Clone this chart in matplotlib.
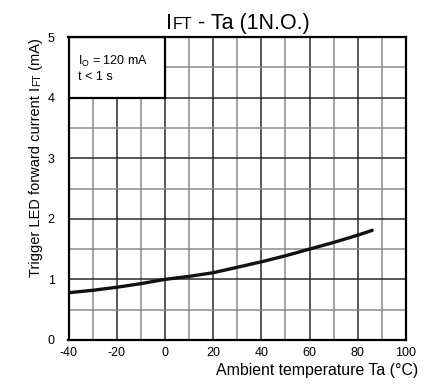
import matplotlib
matplotlib.use('Agg')
import matplotlib.pyplot as plt
from matplotlib.patches import Rectangle
import numpy as np

plt.rcParams['font.family'] = ['Liberation Sans', 'DejaVu Sans']
plt.rcParams['axes.unicode_minus'] = False

# curve
temp = [-40, -30, -20, -10, 0, 10, 20, 30, 40, 50, 60, 70, 80, 86]
ift = [0.78, 0.82, 0.87, 0.93, 1.00, 1.05, 1.11, 1.20, 1.29, 1.39, 1.50, 1.61, 1.73, 1.81]

x_ticks = [-40, -20, 0, 20, 40, 60, 80, 100]
y_ticks = [0, 1, 2, 3, 4, 5]
note_lines = [r'I$_\mathregular{O}$ = 120 mA', 't < 1 s']

W, H = 429, 389
fig = plt.figure(figsize=(W / 100, H / 100), dpi=100)
ax = fig.add_axes([68.5 / W, 1 - 340 / H, (406 - 68.5) / W, (340 - 37) / H])


def draw_pieces(pieces, x, y, rotation=0, align='center'):
    # text made of pieces with different sizes (small caps "FT"), x/y in pixels from top-left
    r = fig.canvas.get_renderer()
    widths = []
    for s, fs in pieces:
        t = fig.text(0, 0, s, fontsize=fs)
        widths.append(t.get_window_extent(r).width)
        t.remove()
    total = sum(widths)
    if align == 'center':
        pos = -total / 2
    elif align == 'right':
        pos = -total
    else:
        pos = 0
    for (s, fs), w in zip(pieces, widths):
        if rotation == 0:
            px, py = x + pos, H - y
        else:
            px, py = x, (H - y) + pos
        fig.text(px / W, py / H, s, fontsize=fs, ha='left', va='baseline',
                 rotation=rotation, rotation_mode='anchor')
        pos += w


ax.set_xlim(-40, 100)
ax.set_ylim(0, 5)
ax.set_xticks(x_ticks)
ax.set_yticks(y_ticks)
ax.set_xticks(np.arange(-30, 100, 20), minor=True)
ax.set_yticks(np.arange(0.5, 5, 1.0), minor=True)
ax.tick_params(which='both', length=0, labelsize=9)
ax.tick_params(axis='x', pad=5)
ax.tick_params(axis='y', pad=10)

ax.grid(which='major', color='#2a2a2a', lw=1.1, zorder=1)
ax.grid(which='minor', color='#8a8a8a', lw=1.1, zorder=1)
for s in ax.spines.values():
    s.set_linewidth(1.6)
    s.set_zorder(5)

# note box, upper left (covers grid)
ax.add_patch(Rectangle((-40, 4), 40, 1, facecolor='white', edgecolor='black',
                       lw=1.6, zorder=3))
ax.text(-36, 4.59, note_lines[0], fontsize=9, va='center', zorder=4)
ax.text(-36, 4.34, note_lines[1], fontsize=9, va='center', zorder=4)

ax.plot(temp, ift, color='#111111', lw=2.4, zorder=4, solid_capstyle='round')

draw_pieces([('I', 15.5), ('FT', 11.5), (' - Ta (1N.O.)', 15.5)], 238, 29)
draw_pieces([('Ambient temperature Ta (°C)', 11.4)], 418, 374.5, align='right')
draw_pieces([('Trigger LED forward current I', 10.5), ('FT', 7.5), (' (mA)', 10.5)],
            40, 38, rotation=90, align='right')

fig.savefig('out.png', dpi=100)
